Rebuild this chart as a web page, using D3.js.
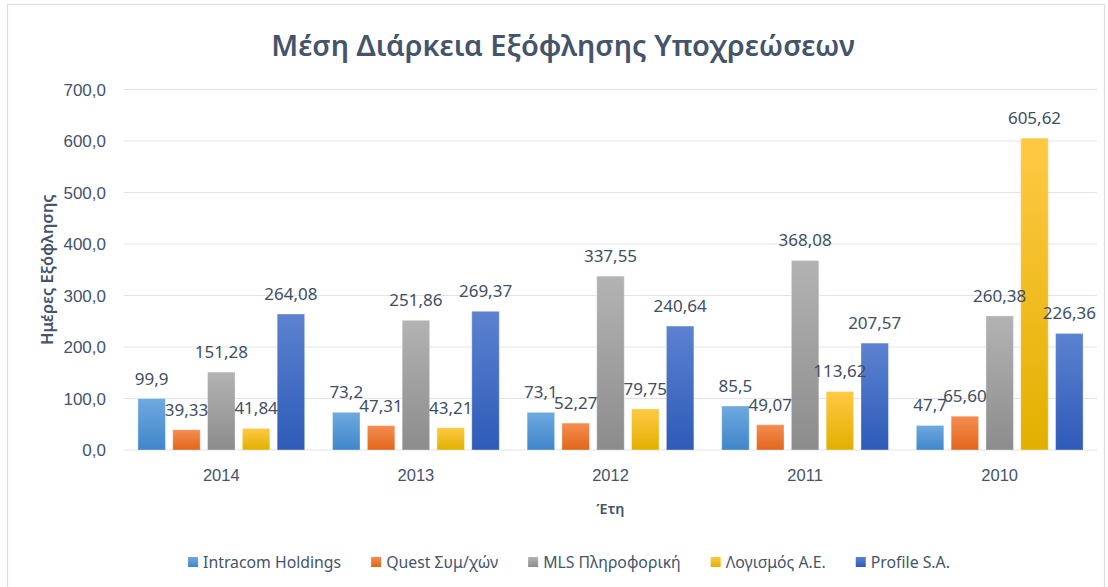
<!DOCTYPE html>
<html>
<head>
<meta charset="utf-8">
<script src="https://cdn.jsdelivr.net/npm/d3@7"></script>
<style>
  html, body { margin: 0; padding: 0; background: #fff; }
  svg { display: block; font-family: "Noto Sans", "Open Sans", sans-serif; }
</style>
</head>
<body>
<svg id="chart" width="1108" height="587"></svg>
<script>
// ---- data ----
const categories = ["2014", "2013", "2012", "2011", "2010"];
const seriesNames = ["Intracom Holdings", "Quest Συμ/χών", "MLS Πληροφορική", "Λογισμός Α.Ε.", "Profile S.A."];
const intracom = [99.9, 73.2, 73.1, 85.5, 47.7];
const quest = [39.33, 47.31, 52.27, 49.07, 65.60];
const mls = [151.28, 251.86, 337.55, 368.08, 260.38];
const logismos = [41.84, 43.21, 79.75, 113.62, 605.62];
const profile = [264.08, 269.37, 240.64, 207.57, 226.36];
const seriesDecimals = [1, 2, 2, 2, 2];
const yTicks = [0, 100, 200, 300, 400, 500, 600, 700];
const titleText = "Μέση Διάρκεια Εξόφλησης Υποχρεώσεων";
const yTitle = "Ημέρες Εξόφλησης";
const xTitle = "Έτη";

const seriesValues = [intracom, quest, mls, logismos, profile];
const gradStops = [
  ["#6fa9e0", "#3f86ca"],
  ["#f48d50", "#e2661c"],
  ["#b3b3b3", "#8c8c8c"],
  ["#ffc944", "#e2b000"],
  ["#5c82d0", "#2e5bb8"]
];

const svg = d3.select("#chart");
const textColor = "#44546a";

// chart border
svg.append("rect").attr("x", 7.5).attr("y", 4.5).attr("width", 1097).attr("height", 600)
  .attr("fill", "#fff").attr("stroke", "#d9dde3").attr("stroke-width", 1.2);

// gradients
const defs = svg.append("defs");
gradStops.forEach((g, i) => {
  const lg = defs.append("linearGradient").attr("id", "g" + i)
    .attr("x1", 0).attr("y1", 0).attr("x2", 0).attr("y2", 1);
  lg.append("stop").attr("offset", "0%").attr("stop-color", g[0]);
  lg.append("stop").attr("offset", "100%").attr("stop-color", g[1]);
});

const plot = { left: 124, right: 1097, top: 89.5, bottom: 450 };

const x0 = d3.scaleBand().domain(categories).range([plot.left, plot.right]).padding(0);
const x1 = d3.scaleBand().domain(d3.range(seriesNames.length))
  .range([0, x0.bandwidth()]).paddingInner(0.21).paddingOuter(0.4);
const y = d3.scaleLinear().domain([0, 700]).range([plot.bottom, plot.top]);

// gridlines
svg.append("g").selectAll("line").data(yTicks).join("line")
  .attr("x1", plot.left).attr("x2", plot.right)
  .attr("y1", d => y(d)).attr("y2", d => y(d))
  .attr("stroke", "#dfe3ea").attr("stroke-width", 1.2);

// y axis labels
const yAxis = d3.axisLeft(y).tickValues(yTicks).tickSize(0).tickPadding(0)
  .tickFormat(d => d3.format(".1f")(d).replace(".", ","));
const yg = svg.append("g").attr("transform", `translate(106,0)`).call(yAxis);
yg.select(".domain").remove();
yg.selectAll("text").attr("fill", textColor).style("font-size", "17px").attr("dy", "0.35em");

// x axis labels
const xAxis = d3.axisBottom(x0).tickSize(0).tickPadding(0);
const xg = svg.append("g").attr("transform", `translate(0,${plot.bottom})`).call(xAxis);
xg.select(".domain").remove();
xg.selectAll("text").attr("fill", textColor).style("font-size", "16.5px").attr("y", 25).attr("dy", "0.35em");

// bars
const groups = svg.append("g").selectAll("g").data(categories).join("g")
  .attr("transform", d => `translate(${x0(d)},0)`);
groups.each(function(cat, ci) {
  const g = d3.select(this);
  seriesValues.forEach((vals, si) => {
    const v = vals[ci];
    g.append("rect")
      .attr("x", x1(si)).attr("width", x1.bandwidth())
      .attr("y", y(v)).attr("height", y(0) - y(v))
      .attr("fill", `url(#g${si})`)
      .attr("stroke", "rgba(255,255,255,0.35)").attr("stroke-width", 1);
  });
});

// data labels
groups.each(function(cat, ci) {
  const g = d3.select(this);
  seriesValues.forEach((vals, si) => {
    const v = vals[ci];
    g.append("text")
      .attr("x", x1(si) + x1.bandwidth() / 2)
      .attr("y", y(v) - 14)
      .attr("text-anchor", "middle")
      .attr("fill", "#404f63")
      .style("font-size", "17px")
      .text(v.toFixed(seriesDecimals[si]).replace(".", ","));
  });
});

// title
svg.append("text").attr("x", 563).attr("y", 56).attr("text-anchor", "middle")
  .attr("fill", textColor).style("font-size", "29px").style("font-weight", "600")
  .text(titleText);

// axis titles
svg.append("text").attr("transform", `translate(53,${(plot.top + plot.bottom) / 2}) rotate(-90)`)
  .attr("text-anchor", "middle").attr("fill", textColor)
  .style("font-size", "16.5px").style("font-weight", "600").text(yTitle);
svg.append("text").attr("x", (plot.left + plot.right) / 2).attr("y", 509).attr("dy", "0.35em")
  .attr("text-anchor", "middle").attr("fill", textColor)
  .style("font-size", "14.5px").style("font-weight", "600").text(xTitle);

// legend
const legend = svg.append("g");
const items = legend.selectAll("g").data(seriesNames).join("g");
items.append("rect").attr("width", 10).attr("height", 10).attr("y", -5)
  .attr("fill", (d, i) => `url(#g${i})`);
items.append("text").attr("x", 15).attr("dy", "0.35em").attr("fill", textColor)
  .style("font-size", "15.8px").text(d => d);
let cx = 0;
items.each(function() {
  const w = this.getBBox().width;
  d3.select(this).attr("transform", `translate(${cx},0)`);
  cx += w + 30;
});
const totalW = cx - 30;
legend.attr("transform", `translate(${569 - totalW / 2},562)`);
</script>
</body>
</html>
